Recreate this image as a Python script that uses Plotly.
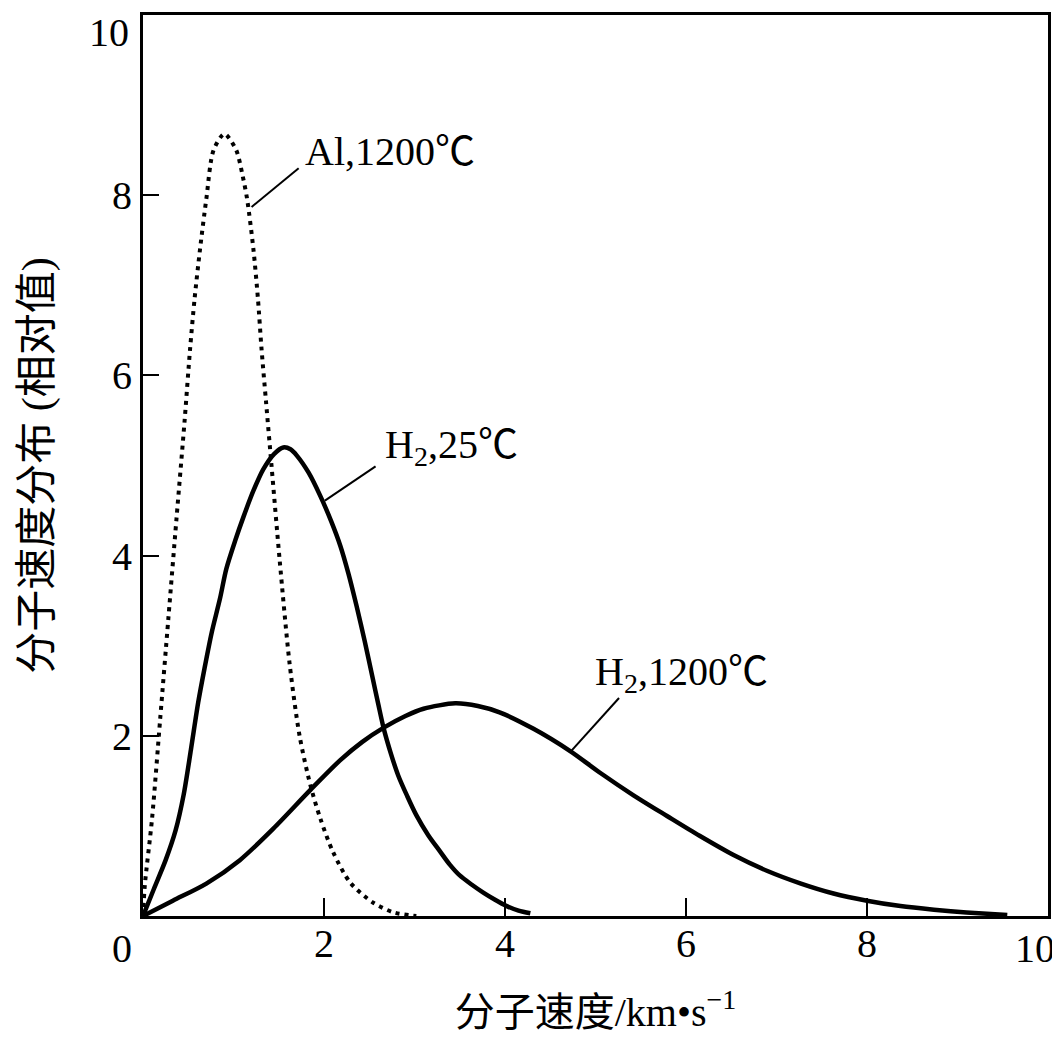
import plotly.graph_objects as go

# ---- data ----
al_v = [0, 0.02, 0.10, 0.19, 0.28, 0.37, 0.46, 0.52, 0.57, 0.63, 0.70, 0.78, 0.90,
        1.03, 1.10, 1.15, 1.22, 1.27, 1.31, 1.36, 1.42, 1.51, 1.62, 1.73, 1.85, 1.96,
        2.10, 2.29, 2.54, 2.77, 3.02]
al_f = [0, 0.34, 1.08, 2.19, 3.30, 4.41, 5.50, 6.29, 6.85, 7.40, 7.96, 8.50, 8.68,
        8.50, 8.22, 7.96, 7.40, 6.85, 6.29, 5.70, 5.00, 3.95, 2.80, 2.00, 1.45, 1.08,
        0.71, 0.37, 0.15, 0.04, 0.0]

h25_v = [0, 0.12, 0.25, 0.36, 0.45, 0.53, 0.61, 0.68, 0.76, 0.85, 0.92, 1.02, 1.11,
         1.22, 1.33, 1.45, 1.55, 1.63, 1.70, 1.83, 1.96, 2.08, 2.18, 2.27, 2.36, 2.45,
         2.54, 2.60, 2.66, 2.74, 2.82, 2.92, 3.02, 3.15, 3.28, 3.39, 3.50, 3.63, 3.76,
         3.89, 4.02, 4.15, 4.28]
h25_f = [0, 0.30, 0.62, 0.95, 1.35, 1.85, 2.37, 2.75, 3.15, 3.52, 3.85, 4.17, 4.43,
         4.72, 4.96, 5.13, 5.20, 5.18, 5.11, 4.92, 4.66, 4.38, 4.11, 3.80, 3.44, 3.05,
         2.63, 2.35, 2.08, 1.80, 1.56, 1.33, 1.12, 0.90, 0.72, 0.57, 0.45, 0.35, 0.26,
         0.18, 0.11, 0.06, 0.03]

h1200_v = [0, 0.33, 0.70, 1.07, 1.44, 1.85, 2.18, 2.42, 2.66, 2.90, 3.10, 3.45, 3.70,
           3.94, 4.31, 4.72, 5.05, 5.42, 5.79, 6.15, 6.52, 6.90, 7.27, 7.63, 8.00,
           8.37, 8.74, 9.10, 9.55]
h1200_f = [0, 0.17, 0.36, 0.62, 0.97, 1.40, 1.73, 1.93, 2.09, 2.22, 2.30, 2.36, 2.33,
           2.26, 2.08, 1.83, 1.59, 1.34, 1.11, 0.89, 0.68, 0.50, 0.36, 0.25, 0.17,
           0.11, 0.07, 0.04, 0.01]

x_ticks = [2, 4, 6, 8]
y_ticks = [2, 4, 6, 8]
axis_end_label = "10"
origin_label = "0"

labels = ["Al,1200℃", "H<sub>2</sub>,25℃", "H<sub>2</sub>,1200℃"]
label_x = [1.77, 2.65, 4.97]
label_y = [8.49, 5.21, 2.69]
leader_from_x = [1.20, 2.01, 4.73]
leader_from_y = [7.87, 4.61, 1.83]
leader_to_x = [1.72, 2.57, 5.26]
leader_to_y = [8.30, 4.99, 2.42]

serif = "Liberation Serif, Times New Roman, Noto Sans CJK SC, serif"
cjk = "Liberation Serif, Noto Sans CJK SC, serif"
tickfont = dict(family=serif, size=40, color="black")

fig = go.Figure()
fig.add_trace(go.Scatter(x=al_v, y=al_f, mode="lines",
                         line=dict(color="black", width=4, dash="4px,5px",
                                   shape="spline", smoothing=0.8),
                         showlegend=False))
fig.add_trace(go.Scatter(x=h25_v, y=h25_f, mode="lines",
                         line=dict(color="black", width=4.5, shape="spline", smoothing=0.8),
                         showlegend=False))
fig.add_trace(go.Scatter(x=h1200_v, y=h1200_f, mode="lines",
                         line=dict(color="black", width=4.5, shape="spline", smoothing=0.8),
                         showlegend=False))

for i in range(len(labels)):
    fig.add_trace(go.Scatter(x=[leader_from_x[i], leader_to_x[i]],
                             y=[leader_from_y[i], leader_to_y[i]],
                             mode="lines", line=dict(color="black", width=2),
                             showlegend=False))
    fig.add_annotation(x=label_x[i], y=label_y[i], text=labels[i], showarrow=False,
                       xanchor="left", yanchor="middle",
                       font=dict(family=serif, size=40, color="black"))

# tick labels at the corners, which sit off the tick positions in the reference
fig.add_annotation(x=0, y=0, text=origin_label, showarrow=False, xanchor="center",
                   yanchor="middle", xshift=-21, yshift=-32, font=tickfont)
fig.add_annotation(x=10, y=0, text=axis_end_label, showarrow=False, xanchor="center",
                   yanchor="middle", xshift=-13, yshift=-32, font=tickfont)
fig.add_annotation(x=0, y=10, text=axis_end_label, showarrow=False, xanchor="right",
                   yanchor="top", xshift=-12, yshift=7, font=tickfont)

# the page body adds an 8px offset, so the figure is sized/margined to compensate
fig.update_layout(
    width=1052, height=1032,
    margin=dict(l=135, r=12, t=7, b=124),
    paper_bgcolor="white", plot_bgcolor="white",
    font=dict(family=serif, color="black"),
)
fig.update_xaxes(range=[0, 10], tickvals=x_ticks, ticktext=[str(t) for t in x_ticks],
                 automargin=False,
                 showgrid=False, zeroline=False, showline=True, linecolor="black",
                 linewidth=3, mirror=True, ticks="inside", ticklen=18, tickwidth=2,
                 tickcolor="black", tickfont=tickfont, ticklabelstandoff=-10,
                 title=dict(text="分子速度/km•s<sup>−1</sup>",
                            font=dict(family=cjk, size=40), standoff=33))
fig.update_yaxes(range=[0, 10], tickvals=y_ticks, ticktext=[str(t) for t in y_ticks],
                 automargin=False,
                 showgrid=False, zeroline=False, showline=True, linecolor="black",
                 linewidth=3, mirror=True, ticks="inside", ticklen=16, tickwidth=2,
                 tickcolor="black", tickfont=tickfont,
                 title=dict(text="分子速度分布 (相对值)",
                            font=dict(family=cjk, size=42), standoff=48))

fig.write_html("out.html")
